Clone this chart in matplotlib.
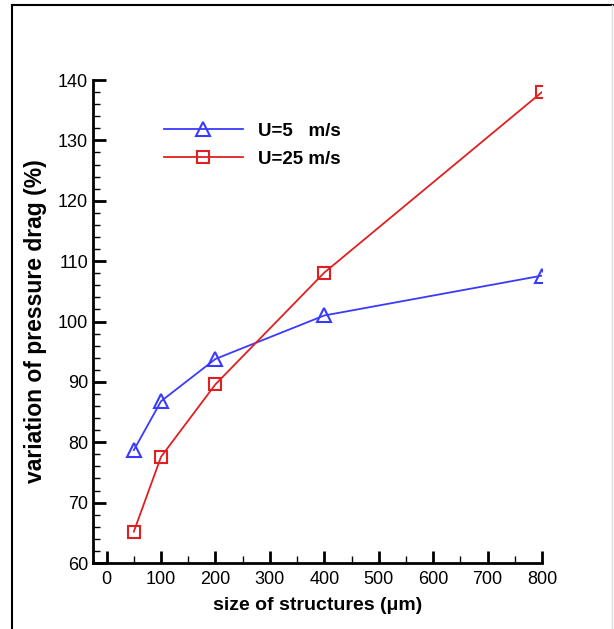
import matplotlib.pyplot as plt
from matplotlib.lines import Line2D
from matplotlib.ticker import MultipleLocator

plt.rcParams['font.family'] = ['Liberation Sans', 'DejaVu Sans']

size = [50, 100, 200, 400, 800]
drag_u5 = [78.7, 86.8, 93.8, 101.0, 107.6]
drag_u25 = [65.2, 77.6, 89.6, 108.1, 138.0]

fig = plt.figure(figsize=(6.14, 6.29), dpi=100)
ax = fig.add_axes([0.1515, 0.1049, 0.7312, 0.7679])

ax.plot(size, drag_u5, color='#3a3aff', lw=1.3, marker='^', ms=10,
        mfc='none', mec='#3a3aff', mew=1.5, label='U=5   m/s')
ax.plot(size, drag_u25, color='#e02020', lw=1.3, marker='s', ms=9,
        mfc='none', mec='#e02020', mew=1.5, label='U=25 m/s')

ax.set_xlim(-25, 800)
ax.set_ylim(60, 140)
ax.xaxis.set_major_locator(MultipleLocator(100))
ax.xaxis.set_minor_locator(MultipleLocator(50))
ax.yaxis.set_major_locator(MultipleLocator(10))
ax.yaxis.set_minor_locator(MultipleLocator(2))
ax.tick_params(which='major', direction='in', length=9, width=2, labelsize=13)
ax.tick_params(which='minor', direction='in', length=5, width=1)
ax.tick_params(axis='x', pad=6)
ax.spines['top'].set_visible(False)
ax.spines['right'].set_visible(False)
for s in ('left', 'bottom'):
    ax.spines[s].set_linewidth(2)

ax.set_xlabel('size of structures (\u03bcm)', fontsize=14, fontweight='bold', labelpad=6)
ax.set_ylabel('variation of pressure drag (%)', fontsize=16.5, fontweight='bold', labelpad=8)

leg = ax.legend(loc='upper left', bbox_to_anchor=(0.12, 0.947), frameon=False,
                fontsize=13.5, handlelength=4.2, labelspacing=0.6)
for t in leg.get_texts():
    t.set_fontweight('bold')

fig.add_artist(Line2D([0.02, 0.02], [0.0, 0.992], color='black', lw=1.5))
fig.add_artist(Line2D([0.02, 1.0], [0.992, 0.992], color='black', lw=1.5))
fig.add_artist(Line2D([0.997, 0.997], [0.0, 0.992], color='#dddddd', lw=1))

fig.savefig('out.png', dpi=100)
